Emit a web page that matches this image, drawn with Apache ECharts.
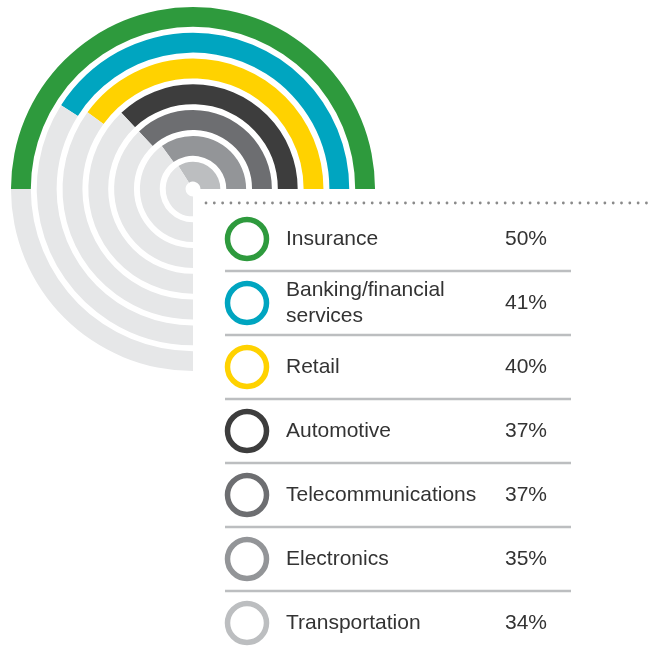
<!DOCTYPE html>
<html>
<head>
<meta charset="utf-8">
<script src="https://cdn.jsdelivr.net/npm/echarts@6/dist/echarts.min.js"></script>
<style>
  html, body { margin: 0; padding: 0; background: #fff; }
  #chart { width: 658px; height: 651px; }
</style>
</head>
<body>
<div id="chart"></div>
<script>
// data, in legend order (outer ring first)
const categories = ["Insurance", "Banking/financial\nservices", "Retail", "Automotive",
  "Telecommunications", "Electronics", "Transportation"];
const values = [50, 41, 40, 37, 37, 35, 34];
const valueLabels = ["50%", "41%", "40%", "37%", "37%", "35%", "34%"];
const colors = ["#2e9a3d", "#00a5c0", "#ffd200", "#3d3d3d", "#6d6e71", "#939598", "#bcbec0"];
const trackValue = 75; // grey track runs 3/4 of the circle

const chart = echarts.init(document.getElementById("chart"));

// radius axis goes from the centre outwards, so the inner ring comes first
const radiusCats = categories.slice().reverse();
const radiusVals = values.slice().reverse();
const radiusCols = colors.slice().reverse();

const font = "Liberation Sans, Arial, sans-serif";
const rowTop = 239, rowStep = 64;
const graphics = [];

// dotted rule above the key
graphics.push({
  type: "line",
  shape: { x1: 206, y1: 203, x2: 652, y2: 203 },
  style: { stroke: "#8a8a8a", lineWidth: 2.8, lineDash: [0.01, 8.3], lineCap: "round" },
});

categories.forEach((name, i) => {
  const y = rowTop + i * rowStep;
  graphics.push({
    type: "circle",
    shape: { cx: 247, cy: y, r: 19.5 },
    style: { fill: "#fff", stroke: colors[i], lineWidth: 5.5 },
  });
  graphics.push({
    type: "text",
    x: 286, y: y,
    style: { text: name, font: "21px " + font, fill: "#333", verticalAlign: "middle", lineHeight: 26 },
  });
  graphics.push({
    type: "text",
    x: 505, y: y,
    style: { text: valueLabels[i], font: "21px " + font, fill: "#333", verticalAlign: "middle" },
  });
  if (i < categories.length - 1) {
    graphics.push({
      type: "line",
      shape: { x1: 225, y1: y + 32, x2: 571, y2: y + 32 },
      style: { stroke: "#bcbec0", lineWidth: 2.5 },
    });
  }
});

chart.setOption({
  animation: false,
  polar: { center: [193, 189], radius: [4.5, 185] },
  angleAxis: {
    type: "value", min: 0, max: 100, startAngle: 0, clockwise: false,
    axisLine: { show: false }, axisTick: { show: false },
    axisLabel: { show: false }, splitLine: { show: false },
  },
  radiusAxis: {
    type: "category", data: radiusCats,
    axisLine: { show: false }, axisTick: { show: false },
    axisLabel: { show: false }, splitLine: { show: false },
  },
  series: [
    {
      name: "share", type: "bar", coordinateSystem: "polar", stack: "ring",
      data: radiusVals.map((v, i) => ({ value: v, itemStyle: { color: radiusCols[i] } })),
      barCategoryGap: "23%",
    },
    {
      name: "track", type: "bar", coordinateSystem: "polar", stack: "ring",
      data: radiusVals.map((v) => trackValue - v),
      barCategoryGap: "23%", silent: true,
      itemStyle: { color: "#e6e7e8" },
    },
  ],
  graphic: graphics,
});
</script>
</body>
</html>
